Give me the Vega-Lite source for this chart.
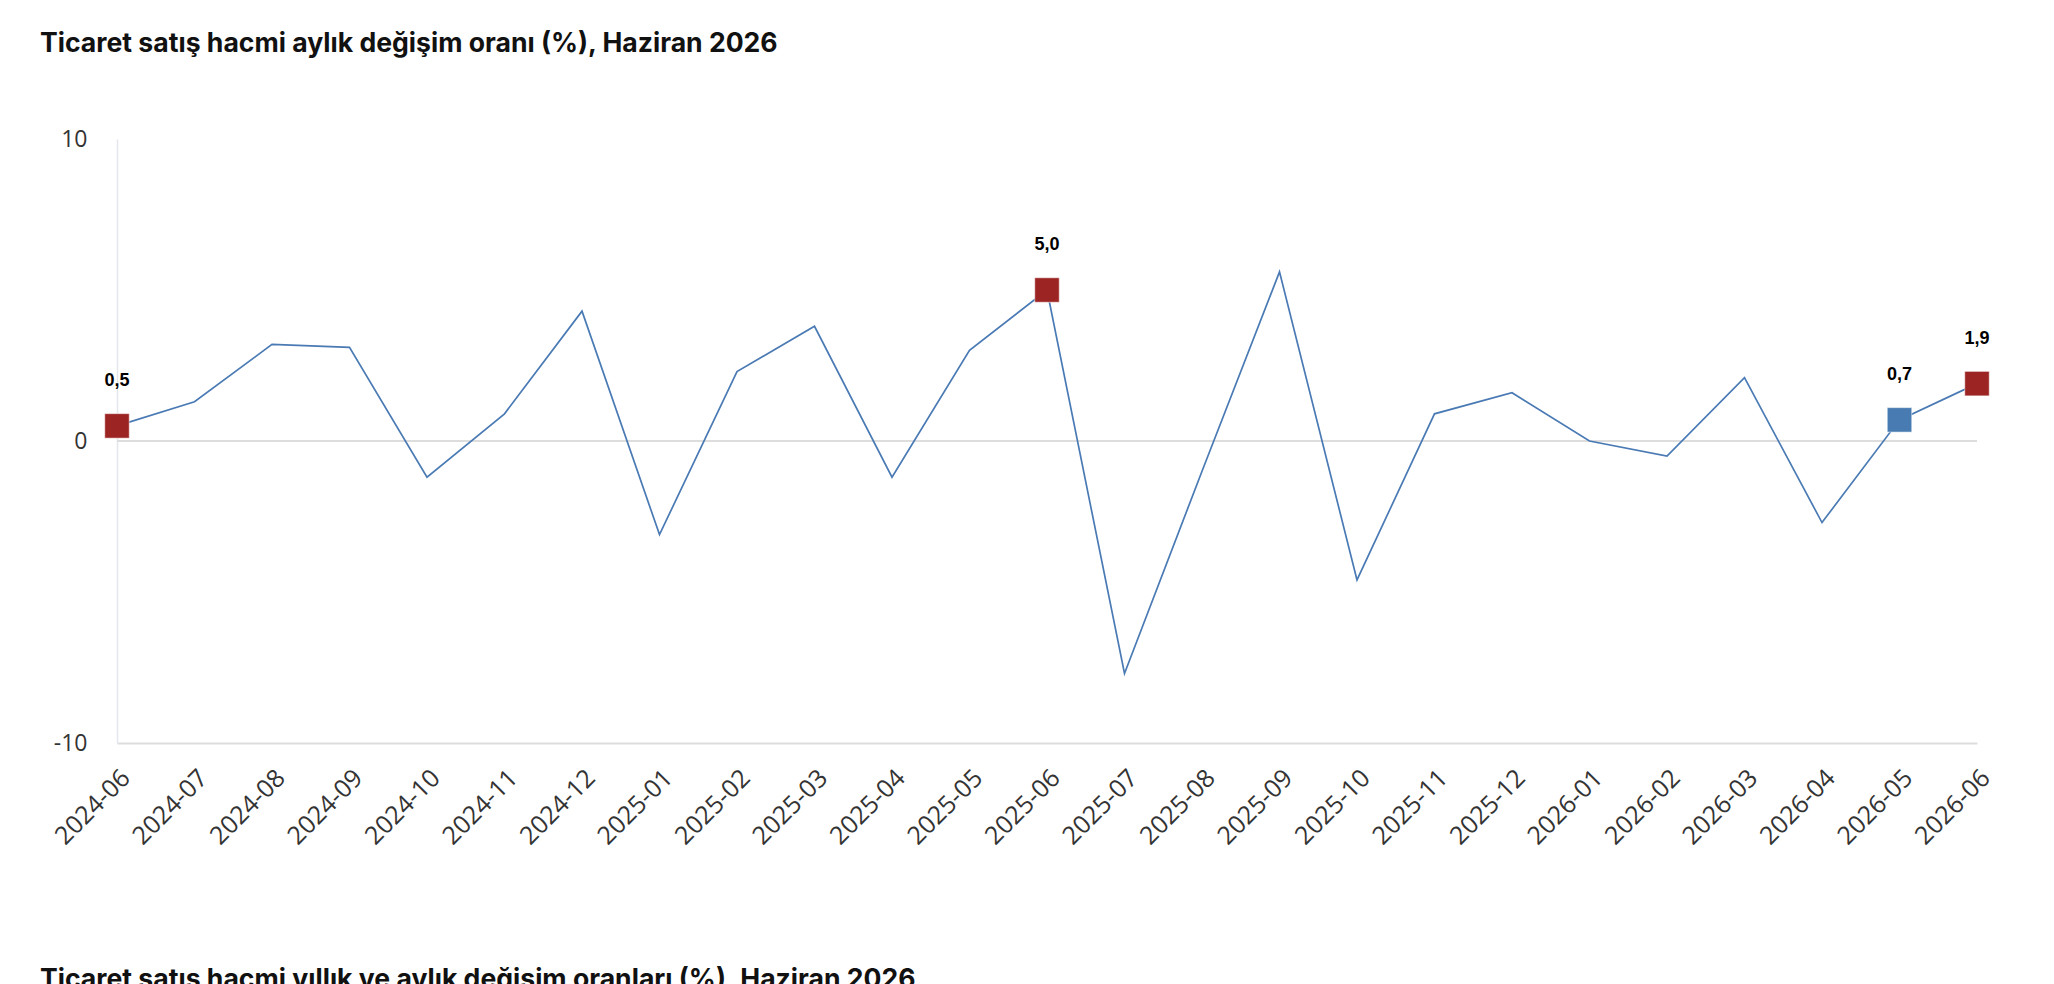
{
  "$schema": "https://vega.github.io/schema/vega-lite/v6.json",
  "description": "Ticaret satış hacmi aylık değişim oranı (%), Haziran 2026",
  "background": "#ffffff",
  "padding": {"left": 40, "top": 31, "right": 60, "bottom": 0},
  "title": {
    "text": "Ticaret satış hacmi aylık değişim oranı (%), Haziran 2026",
    "anchor": "start",
    "font": "Inter",
    "fontSize": 26.6,
    "fontWeight": 700,
    "color": "#111111",
    "offset": 70
  },
  "config": {
    "locale": {
      "number": {"decimal": ",", "thousands": ".", "grouping": [3], "currency": ["", " ₺"], "minus": "-"}
    },
    "view": {"stroke": null},
    "axis": {
      "labelFont": "Open Sans",
      "labelFontSize": 22,
      "labelColor": "#333333",
      "ticks": false,
      "grid": false,
      "title": null
    }
  },
  "spacing": 117,
  "vconcat": [
    {
      "width": 1860,
      "height": 604,
      "data": {
        "values": [
          {"month": "2024-06", "value": 0.5, "mark": "red"},
          {"month": "2024-07", "value": 1.3, "mark": null},
          {"month": "2024-08", "value": 3.2, "mark": null},
          {"month": "2024-09", "value": 3.1, "mark": null},
          {"month": "2024-10", "value": -1.2, "mark": null},
          {"month": "2024-11", "value": 0.9, "mark": null},
          {"month": "2024-12", "value": 4.3, "mark": null},
          {"month": "2025-01", "value": -3.1, "mark": null},
          {"month": "2025-02", "value": 2.3, "mark": null},
          {"month": "2025-03", "value": 3.8, "mark": null},
          {"month": "2025-04", "value": -1.2, "mark": null},
          {"month": "2025-05", "value": 3.0, "mark": null},
          {"month": "2025-06", "value": 5.0, "mark": "red"},
          {"month": "2025-07", "value": -7.7, "mark": null},
          {"month": "2025-08", "value": -1.0, "mark": null},
          {"month": "2025-09", "value": 5.6, "mark": null},
          {"month": "2025-10", "value": -4.6, "mark": null},
          {"month": "2025-11", "value": 0.9, "mark": null},
          {"month": "2025-12", "value": 1.6, "mark": null},
          {"month": "2026-01", "value": 0.0, "mark": null},
          {"month": "2026-02", "value": -0.5, "mark": null},
          {"month": "2026-03", "value": 2.1, "mark": null},
          {"month": "2026-04", "value": -2.7, "mark": null},
          {"month": "2026-05", "value": 0.7, "mark": "blue"},
          {"month": "2026-06", "value": 1.9, "mark": "red"}
        ]
      },
      "encoding": {
        "x": {
          "field": "month",
          "type": "ordinal",
          "sort": null,
          "scale": {"type": "point", "padding": 0},
          "axis": {
            "labelAngle": -45,
            "labelPadding": 22,
            "labelFontSize": 25,
            "domainColor": "#dddddd",
            "domainWidth": 2
          }
        },
        "y": {
          "field": "value",
          "type": "quantitative",
          "scale": {"domain": [-10, 10], "nice": false},
          "axis": {
            "values": [-10, 0, 10],
            "labelPadding": 30,
            "labelFontSize": 23,
            "domainColor": "#e3e6eb",
            "domainWidth": 1.5
          }
        }
      },
      "layer": [
        {
          "mark": {"type": "rule", "color": "#dddddd", "strokeWidth": 2},
          "encoding": {"x": null, "y": {"datum": 0}}
        },
        {
          "mark": {"type": "line", "color": "#4a7ab4", "strokeWidth": 1.7}
        },
        {
          "transform": [{"filter": "datum.mark != null"}],
          "mark": {"type": "point", "shape": "square", "filled": true, "size": 600, "opacity": 1, "stroke": "#ffffff", "strokeWidth": 1, "strokeOpacity": 0.5},
          "encoding": {
            "color": {
              "field": "mark",
              "type": "nominal",
              "scale": {"domain": ["red", "blue"], "range": ["#9c2524", "#487bb2"]},
              "legend": null
            }
          }
        },
        {
          "transform": [{"filter": "datum.mark != null"}],
          "mark": {"type": "text", "font": "Liberation Sans", "fontSize": 18, "fontWeight": "bold", "color": "#000000", "dy": -45, "baseline": "middle"},
          "encoding": {
            "text": {"field": "value", "type": "quantitative", "format": ".1f"}
          }
        }
      ]
    },
    {
      "width": 1860,
      "height": 1,
      "title": {
        "text": "Ticaret satış hacmi yıllık ve aylık değişim oranları (%), Haziran 2026",
        "anchor": "start",
        "font": "Inter",
        "fontSize": 26.6,
        "fontWeight": 700,
        "color": "#111111",
        "dx": -77,
        "offset": 0
      },
      "data": {"values": []},
      "mark": "point"
    }
  ]
}
